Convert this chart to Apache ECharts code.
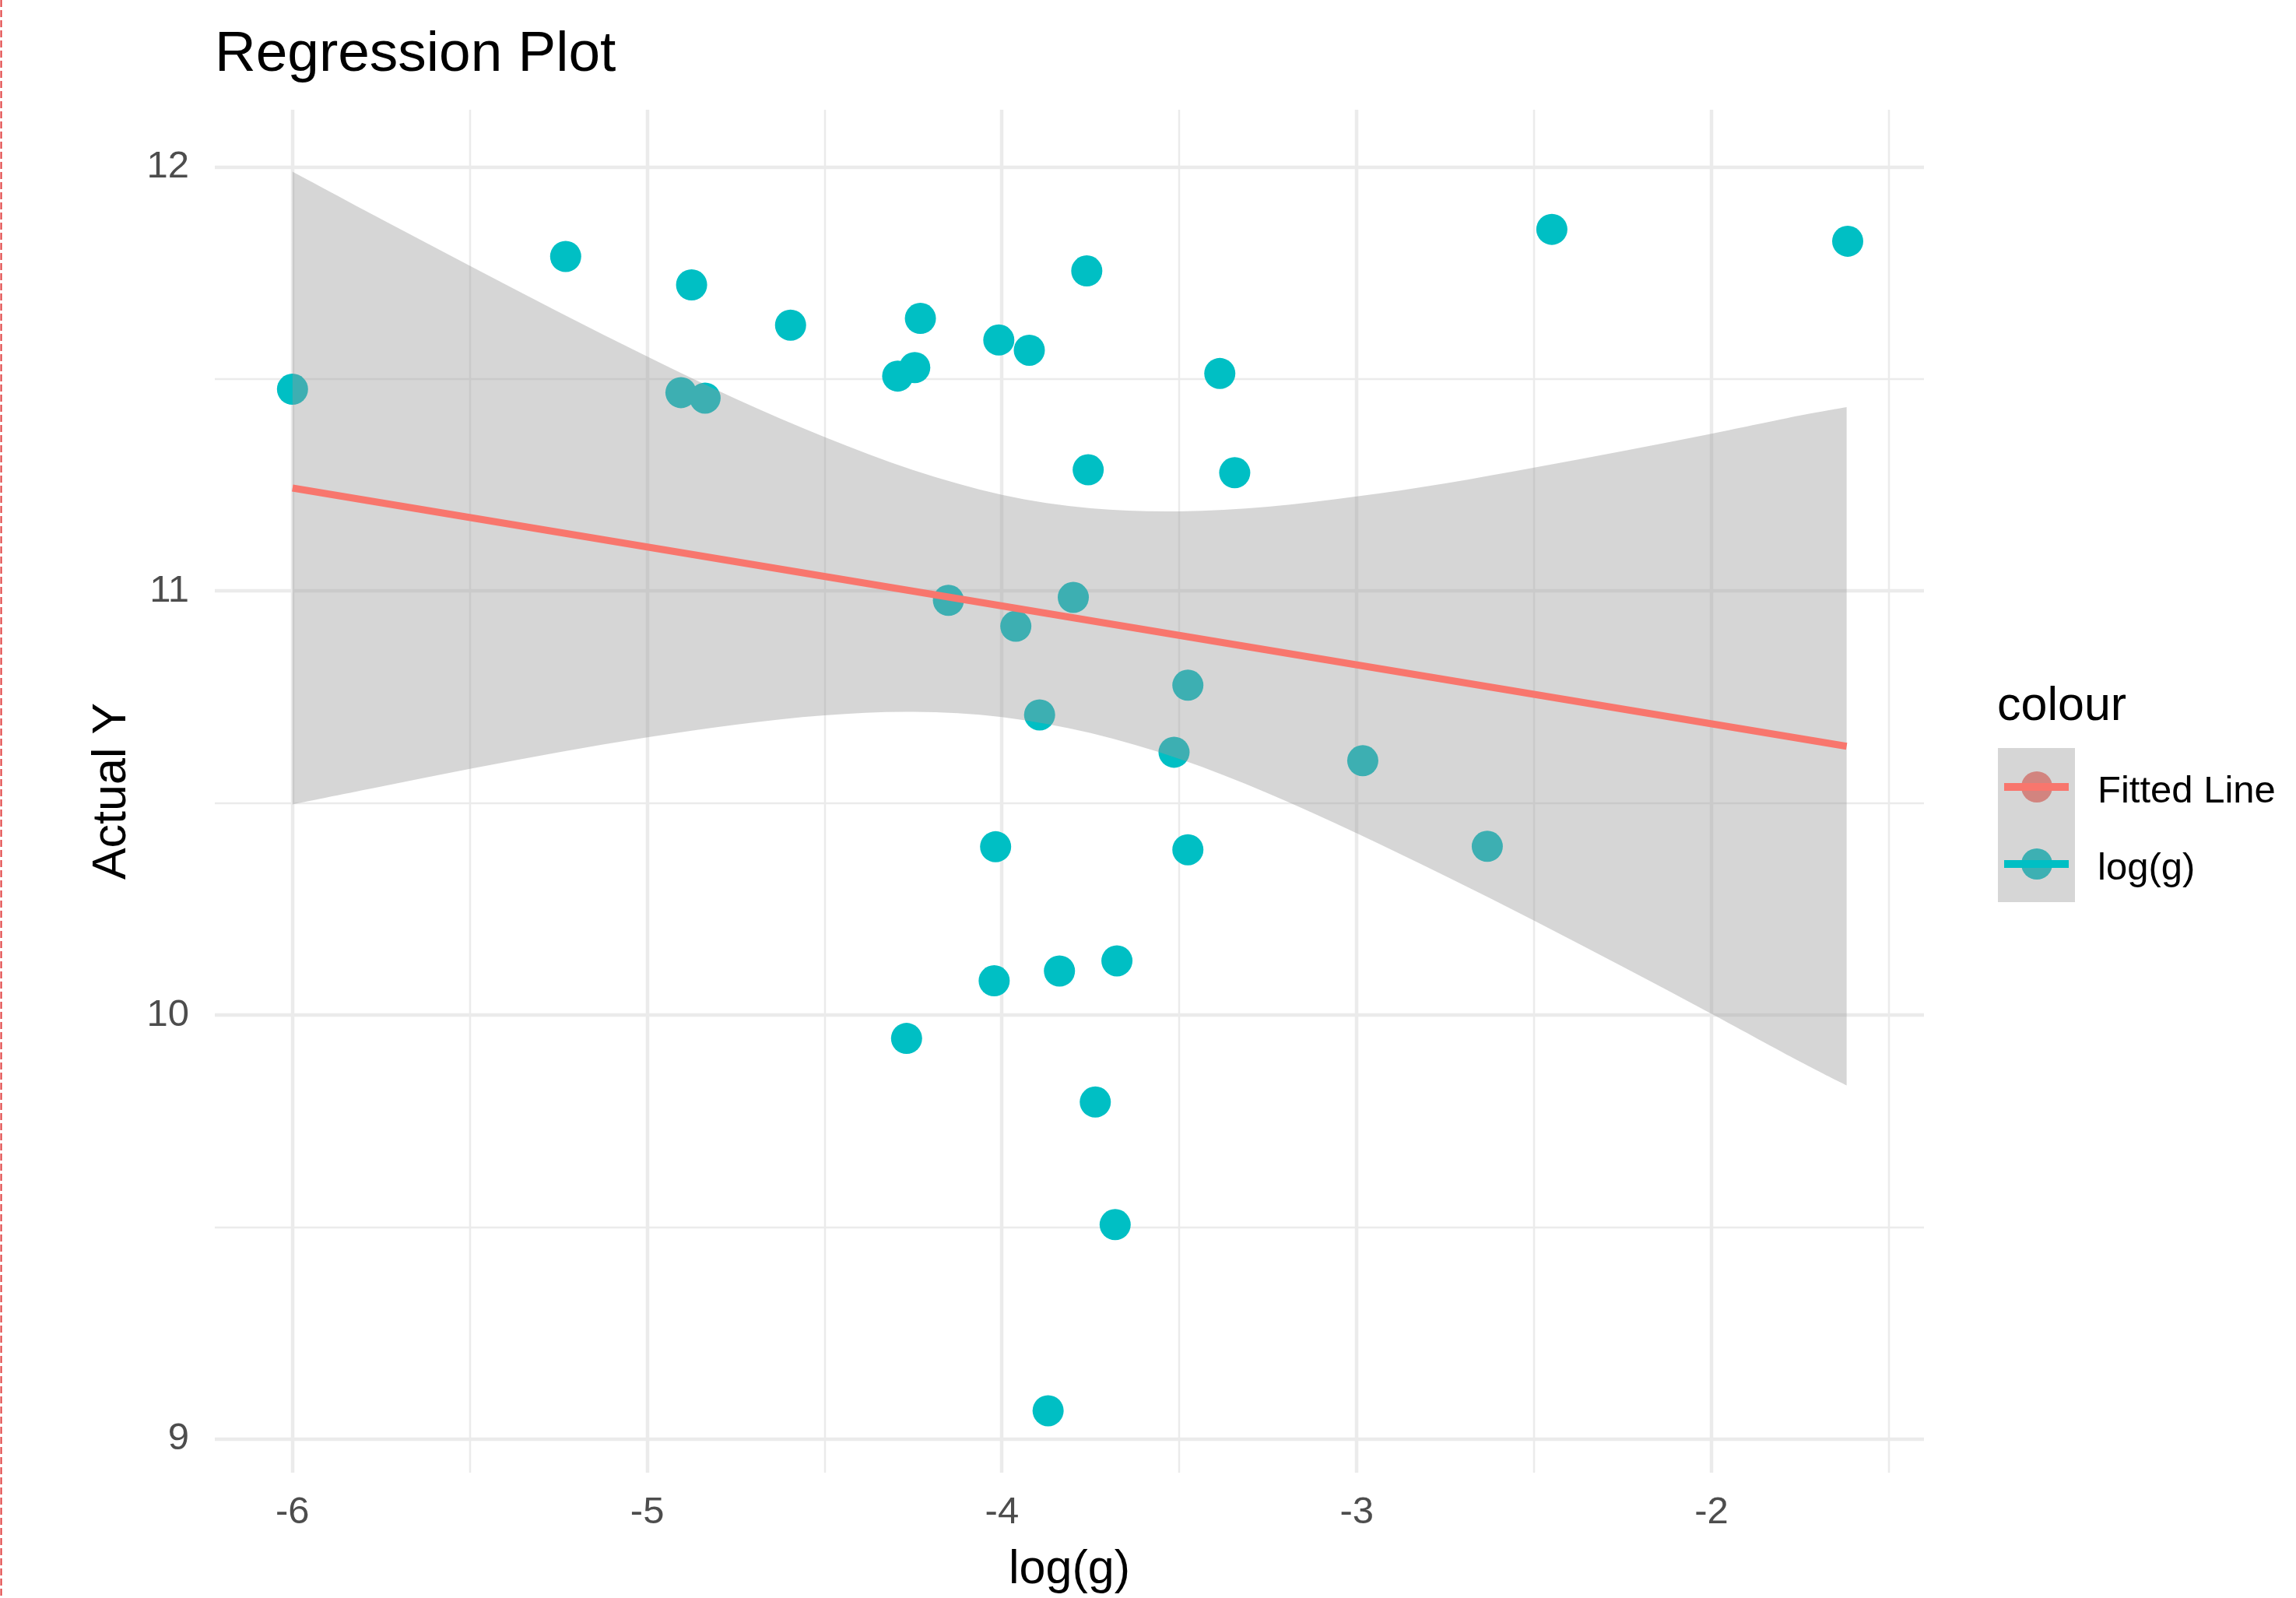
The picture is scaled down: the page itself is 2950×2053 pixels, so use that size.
<!DOCTYPE html>
<html>
<head>
<meta charset="utf-8">
<script src="https://cdn.jsdelivr.net/npm/echarts@6/dist/echarts.min.js"></script>
<style>
html,body{margin:0;padding:0;background:#fff;}
#chart{width:2950px;height:2053px;}
</style>
</head>
<body>
<div id="chart"></div>
<script>
// ---- data ----
var pointX = [-6.000,-5.230,-4.875,-4.596,-4.905,-4.837,-4.294,-4.246,-4.230,-4.009,
              -3.923,-3.761,-3.386,-3.757,-3.344,-4.151,-3.799,-3.961,-3.476,-3.894,
              -3.515,-2.983,-2.632,-4.018,-3.476,-3.676,-3.838,-4.022,-4.269,-3.737,
              -3.681,-3.870,-2.450,-1.616];
var pointY = [11.476,11.789,11.722,11.627,11.468,11.455,11.507,11.527,11.643,11.592,
              11.568,11.755,11.513,11.286,11.279,10.978,10.985,10.917,10.778,10.708,
              10.620,10.600,10.398,10.397,10.390,10.128,10.104,10.081,9.945,9.795,
              9.506,9.067,11.853,11.825];
var fitX = [-6.000, -1.619];
var fitY = [11.243, 10.634];
var bandX     = [-6.00,-5.75,-5.50,-5.25,-5.00,-4.75,-4.50,-4.25,-4.00,-3.75,-3.50,-3.25,-3.00,-2.75,-2.50,-2.25,-2.00,-1.75,-1.619];
var bandUpper = [11.989,11.877,11.767,11.658,11.553,11.453,11.363,11.285,11.227,11.195,11.188,11.199,11.223,11.254,11.291,11.330,11.371,11.414,11.434];
var bandLower = [10.497,10.539,10.581,10.620,10.655,10.685,10.707,10.715,10.703,10.665,10.604,10.523,10.429,10.328,10.223,10.114,10.003,9.890,9.834];
var xTicks = [-6,-5,-4,-3,-2];
var xMinor = [-5.5,-4.5,-3.5,-2.5,-1.5];
var yTicks = [9,10,11,12];
var yMinor = [9.5,10.5,11.5];
var xRange = [-6.219, -1.401];
var yRange = [8.921, 12.135];

// ---- build ----
var FONT = "'Liberation Sans', Arial, Helvetica, sans-serif";
var chart = echarts.init(document.getElementById('chart'), null, {renderer:'canvas'});

var scatterData = pointX.map(function(x,i){ return [x, pointY[i]]; });
var fitData = fitX.map(function(x,i){ return [x, fitY[i]]; });
var bandData = bandX.map(function(x,i){ return [x, bandLower[i], bandUpper[i]]; });

function gridData(vals, w, vertical){
  return vals.map(function(v){ return vertical ? [v, yRange[0], w] : [xRange[0], v, w]; });
}
var vGrid = gridData(xTicks, 4.5, true).concat(gridData(xMinor, 2.5, true));
var hGrid = gridData(yTicks, 4.5, false).concat(gridData(yMinor, 2.5, false));

function vLine(params, api){
  var cs = params.coordSys;
  var p = api.coord([api.value(0), api.value(1)]);
  var x = Math.round(p[0]);
  return {type:'line', shape:{x1:x, y1:cs.y, x2:x, y2:cs.y+cs.height},
          style:{stroke:'#EBEBEB', lineWidth: api.value(2)}, silent:true};
}
function hLine(params, api){
  var cs = params.coordSys;
  var p = api.coord([api.value(0), api.value(1)]);
  var y = Math.round(p[1]);
  return {type:'line', shape:{x1:cs.x, y1:y, x2:cs.x+cs.width, y2:y},
          style:{stroke:'#EBEBEB', lineWidth: api.value(2)}, silent:true};
}
// Catmull-Rom curve through pixel points, as bezier path commands (no leading M)
function curvePath(P){
  var s = '';
  for (var i=0;i<P.length-1;i++){
    var p0 = P[Math.max(i-1,0)], p1 = P[i], p2 = P[i+1], p3 = P[Math.min(i+2,P.length-1)];
    var c1x = p1[0] + (p2[0]-p0[0])/6, c1y = p1[1] + (p2[1]-p0[1])/6;
    var c2x = p2[0] - (p3[0]-p1[0])/6, c2y = p2[1] - (p3[1]-p1[1])/6;
    s += ' C' + c1x.toFixed(2)+' '+c1y.toFixed(2)+' '+c2x.toFixed(2)+' '+c2y.toFixed(2)+' '+p2[0].toFixed(2)+' '+p2[1].toFixed(2);
  }
  return s;
}
function bandItem(params, api){
  if (params.dataIndex !== 0) return null;
  var up = [], lo = [];
  for (var i=0;i<bandX.length;i++) up.push(api.coord([bandX[i], bandUpper[i]]));
  for (var j=bandX.length-1;j>=0;j--) lo.push(api.coord([bandX[j], bandLower[j]]));
  var d = 'M' + up[0][0].toFixed(2) + ' ' + up[0][1].toFixed(2) + curvePath(up)
        + ' L' + lo[0][0].toFixed(2) + ' ' + lo[0][1].toFixed(2) + curvePath(lo) + ' Z';
  return {type:'path', shape:{pathData:d}, style:{fill:'rgba(153,153,153,0.4)'}, silent:true};
}

var option = {
  animation:false,
  backgroundColor:'#ffffff',
  textStyle:{fontFamily:FONT},
  title:{text:'Regression Plot', left:271, top:29,
         textStyle:{fontFamily:FONT, fontSize:73, fontWeight:'normal', color:'#000000'}},
  grid:{left:276, top:141, width:2196, height:1752, containLabel:false},
  xAxis:{type:'value', min:xRange[0], max:xRange[1],
    name:'log(g)', nameLocation:'middle', nameGap:95,
    nameTextStyle:{fontFamily:FONT, fontSize:61, color:'#000000'},
    axisLine:{show:false}, axisTick:{show:false, customValues:xTicks}, splitLine:{show:false},
    axisLabel:{customValues:xTicks, fontFamily:FONT, fontSize:49, color:'#4D4D4D', margin:27,
      formatter:function(v){return String(v);}}},
  yAxis:{type:'value', min:yRange[0], max:yRange[1],
    name:'Actual Y', nameLocation:'middle', nameGap:101,
    nameTextStyle:{fontFamily:FONT, fontSize:61, color:'#000000'},
    axisLine:{show:false}, axisTick:{show:false, customValues:yTicks}, splitLine:{show:false},
    axisLabel:{customValues:yTicks, fontFamily:FONT, fontSize:49, color:'#4D4D4D', margin:33,
      formatter:function(v){return String(v);}}},
  series:[
    {type:'custom', name:'vgrid', data:vGrid, renderItem:vLine, z:0, silent:true,
     encode:{x:0,y:1}, clip:false},
    {type:'custom', name:'hgrid', data:hGrid, renderItem:hLine, z:0, silent:true,
     encode:{x:0,y:1}, clip:false},
    {type:'scatter', name:'log(g)', data:scatterData, symbol:'circle', symbolSize:40,
     itemStyle:{color:'#00BFC4', opacity:1}, z:2, silent:true},
    {type:'custom', name:'band', data:bandData, renderItem:bandItem, z:3, silent:true,
     encode:{x:0,y:[1,2]}},
    {type:'line', name:'Fitted Line', data:fitData, showSymbol:false, symbol:'none',
     lineStyle:{color:'#F8766D', width:9}, z:4, silent:true}
  ],
  graphic:[
    {type:'line', shape:{x1:1.5,y1:0,x2:1.5,y2:2053}, style:{stroke:'#E03C3C', lineWidth:2, lineDash:[9,4]}, silent:true},
    {type:'text', left:2566, top:878, style:{text:'colour', font:'61px '+FONT, fill:'#000000'}, silent:true},
    {type:'rect', shape:{x:2567,y:961,width:99,height:198}, style:{fill:'#D6D6D6'}, silent:true},
    {type:'circle', shape:{cx:2617,cy:1011,r:20}, style:{fill:'#D2847F'}, silent:true},
    {type:'line', shape:{x1:2575,y1:1011,x2:2658,y2:1011}, style:{stroke:'#F8766D', lineWidth:10}, silent:true},
    {type:'circle', shape:{cx:2617,cy:1110,r:20}, style:{fill:'#3DB0B3'}, silent:true},
    {type:'line', shape:{x1:2575,y1:1110,x2:2658,y2:1110}, style:{stroke:'#00BFC4', lineWidth:10}, silent:true},
    {type:'text', left:2695, top:993, style:{text:'Fitted Line', font:'49px '+FONT, fill:'#000000'}, silent:true},
    {type:'text', left:2695, top:1092, style:{text:'log(g)', font:'49px '+FONT, fill:'#000000'}, silent:true}
  ]
};
chart.setOption(option);
</script>
</body>
</html>
